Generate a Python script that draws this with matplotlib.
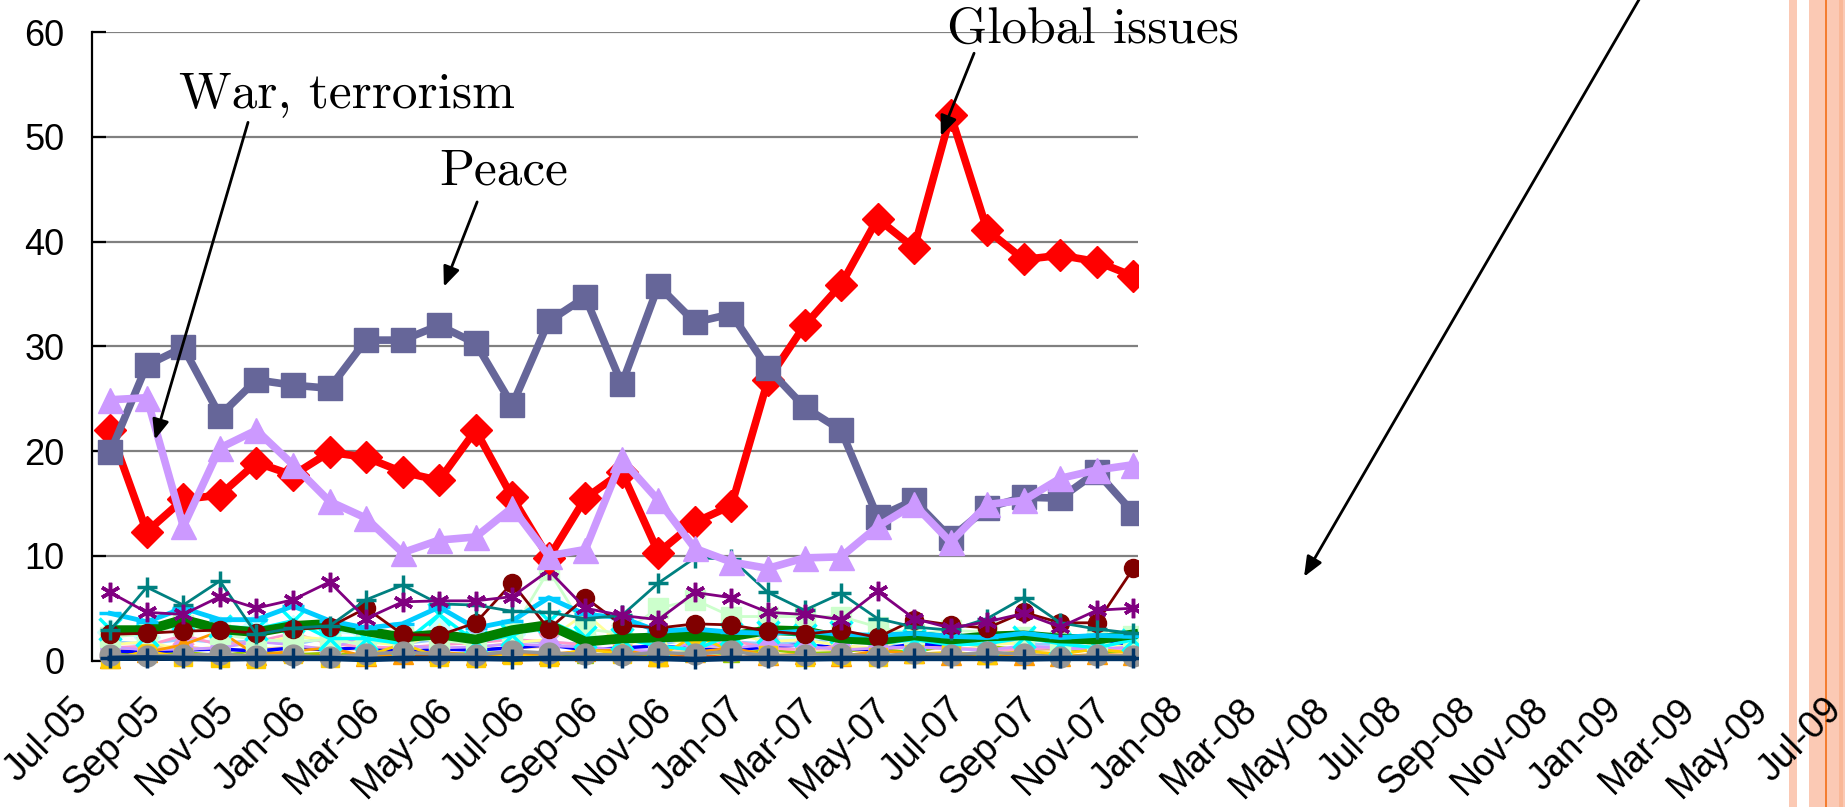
import matplotlib
matplotlib.use("Agg")
import matplotlib.pyplot as plt
from matplotlib.patches import Rectangle
from matplotlib.transforms import Bbox, TransformedBbox, ScaledTranslation

# ---------------- data ----------------
months = ["Jul-05", "Aug-05", "Sep-05", "Oct-05", "Nov-05", "Dec-05", "Jan-06", "Feb-06",
          "Mar-06", "Apr-06", "May-06", "Jun-06", "Jul-06", "Aug-06", "Sep-06", "Oct-06",
          "Nov-06", "Dec-06", "Jan-07", "Feb-07", "Mar-07", "Apr-07", "May-07", "Jun-07",
          "Jul-07", "Aug-07", "Sep-07", "Oct-07", "Nov-07"]

tick_labels = ["Jul-05", "Sep-05", "Nov-05", "Jan-06", "Mar-06", "May-06", "Jul-06", "Sep-06",
               "Nov-06", "Jan-07", "Mar-07", "May-07", "Jul-07", "Sep-07", "Nov-07", "Jan-08",
               "Mar-08", "May-08", "Jul-08", "Sep-08", "Nov-08", "Jan-09", "Mar-09", "May-09",
               "Jul-09"]
y_ticks = [0, 10, 20, 30, 40, 50, 60]

peace = [19.9, 28.2, 29.9, 23.4, 26.8, 26.3, 26.0, 30.6, 30.6, 32.0, 30.3, 24.4, 32.4, 34.7, 26.4,
         35.8, 32.3, 33.1, 27.9, 24.2, 22.0, 13.7, 15.3, 11.7, 14.6, 15.6, 15.5, 18.0, 14.1]
global_issues = [22.0, 12.3, 15.4, 15.8, 18.9, 17.7, 19.9, 19.4, 18.0, 17.2, 22.0, 15.6, 9.8, 15.5,
                 18.0, 10.3, 13.2, 14.8, 26.8, 32.0, 35.9, 42.2, 39.4, 52.1, 41.1, 38.3, 38.7, 38.1, 36.7]
war_terrorism = [24.9, 25.1, 12.8, 20.3, 22.0, 18.7, 15.2, 13.6, 10.3, 11.5, 11.8, 14.6, 10.0, 10.6,
                 19.2, 15.3, 10.7, 9.4, 8.8, 9.8, 9.9, 12.8, 14.9, 11.3, 14.9, 15.3, 17.4, 18.2, 18.7]

purple_s = [6.5, 4.6, 4.4, 6.1, 5.0, 5.8, 7.5, 4.0, 5.6, 5.7, 5.7, 6.1, 8.6, 5.0, 4.3, 3.9, 6.5, 6.0,
            4.6, 4.4, 3.9, 6.6, 4.0, 3.1, 3.7, 4.5, 3.2, 4.8, 5.0]
teal_s = [2.9, 7.0, 5.3, 7.6, 2.5, 3.1, 3.3, 5.8, 7.2, 5.4, 5.3, 4.7, 4.6, 4.0, 4.3, 7.4, 9.8, 9.7,
          6.5, 4.8, 6.4, 4.0, 3.2, 2.9, 4.0, 6.0, 3.6, 3.0, 2.6]
darkred_s = [2.5, 2.6, 2.8, 2.9, 2.6, 3.0, 3.2, 5.0, 2.5, 2.4, 3.6, 7.4, 3.0, 6.0, 3.4, 3.1, 3.5, 3.4,
             2.8, 2.5, 2.9, 2.2, 3.9, 3.4, 3.1, 4.6, 3.6, 3.6, 8.8]
sky_s = [4.5, 3.7, 5.0, 3.9, 3.9, 5.2, 3.8, 3.1, 3.5, 5.1, 3.1, 3.8, 6.0, 4.4, 4.1, 2.8, 3.0, 2.7,
         2.6, 2.8, 2.5, 2.4, 2.6, 2.3, 2.2, 2.6, 2.2, 2.4, 2.3]
green_s = [2.9, 2.9, 3.9, 3.0, 2.7, 3.3, 3.5, 2.8, 2.2, 2.5, 2.0, 2.9, 3.4, 1.8, 2.1, 2.2, 2.3, 2.3,
           2.9, 2.8, 2.1, 1.9, 2.4, 2.0, 2.3, 2.4, 2.1, 2.0, 2.5]
cyan_s = [3.0, 2.4, 4.0, 3.3, 3.0, 3.8, 2.1, 2.1, 1.6, 4.4, 1.8, 2.4, 3.8, 2.2, 2.1, 1.4, 1.0, 2.5,
          2.7, 2.4, 2.7, 1.6, 2.0, 1.5, 1.6, 2.2, 1.6, 1.2, 2.0]
lightgreen_s = [2.2, 2.6, 3.4, 2.5, 2.0, 1.8, 2.0, 1.5, 2.2, 1.9, 1.6, 2.8, 8.6, 3.0, 2.6, 5.0, 5.8,
                4.2, 4.2, 4.2, 4.2, 3.2, 2.5, 2.9, 2.7, 2.2, 1.9, 2.0, 2.3]
yellow_s = [1.5, 1.8, 1.0, 1.3, 1.6, 2.3, 2.0, 1.8, 1.4, 2.6, 1.2, 1.7, 2.0, 4.5, 1.5, 2.2, 1.4, 2.6,
            1.8, 2.0, 1.4, 1.2, 2.3, 1.6, 1.5, 1.7, 2.6, 1.7, 1.2]
pink_s = [1.2, 1.4, 2.4, 1.5, 1.8, 2.6, 1.6, 1.3, 1.2, 1.5, 1.7, 2.0, 1.8, 1.5, 2.5, 1.3, 1.1, 1.9,
          1.2, 1.0, 1.4, 1.1, 1.3, 1.2, 1.0, 1.1, 1.2, 1.0, 1.1]
lavcircle_s = [1.3, 1.0, 1.1, 1.2, 1.8, 1.5, 1.0, 2.5, 1.4, 1.2, 1.3, 1.6, 1.4, 1.3, 1.0, 0.9, 1.7,
               1.2, 1.5, 1.4, 1.0, 1.2, 1.3, 1.1, 1.0, 1.4, 1.2, 1.1, 1.3]
orange_s = [0.2, 0.8, 1.5, 2.8, 0.5, 0.9, 1.2, 0.4, 0.6, 0.8, 0.5, 0.7, 0.6, 0.9, 1.0, 0.4, 0.8, 1.2,
            0.5, 0.6, 0.4, 0.9, 0.7, 0.5, 0.6, 0.5, 0.4, 0.6, 0.5]
gold_s = [0.1, 0.9, 0.3, 0.2, 0.1, 0.6, 0.2, 0.4, 1.6, 0.3, 0.2, 0.5, 0.3, 1.1, 0.6, 0.3, 2.4, 0.9,
          0.5, 0.3, 0.4, 0.3, 0.6, 0.8, 0.5, 0.9, 0.6, 1.1, 0.7]
grey_s = [0.5, 0.4, 0.5, 0.6, 0.4, 0.5, 0.3, 0.6, 0.8, 0.6, 0.5, 0.9, 0.7, 0.6, 0.5, 0.8, 0.6, 0.9,
          0.4, 0.5, 0.6, 0.4, 0.7, 0.5, 0.8, 0.6, 0.3, 0.5, 0.4]
navy_s = [0.2, 0.25, 0.2, 0.15, 0.2, 0.2, 0.2, 0.1, 0.2, 0.2, 0.2, 0.15, 0.2, 0.2, 0.2, 0.2, 0.1, 0.2,
          0.2, 0.15, 0.2, 0.2, 0.2, 0.2, 0.2, 0.15, 0.2, 0.2, 0.2]
blue_s = [0.9, 0.8, 1.0, 1.1, 0.9, 1.2, 1.0, 1.3, 0.8, 1.1, 1.0, 1.2, 1.5, 1.0, 1.2, 1.4, 1.1, 1.0,
          1.3, 1.5, 1.2, 1.0, 1.6, 1.4, 2.4, 2.5, 2.0, 2.3, 1.2]
yg_s = [0.7, 0.6, 0.8, 0.5, 0.9, 0.6, 0.7, 0.5, 0.8, 0.6, 0.7, 0.8, 0.6, 0.5, 0.7, 0.6, 0.8, 0.6,
        1.0, 0.7, 0.8, 1.2, 0.7, 1.6, 1.4, 1.0, 1.2, 0.8, 0.9]
lightblue_s = [1.8, 1.6, 2.0, 1.7, 1.9, 1.5, 2.2, 1.8, 1.6, 2.0, 2.3, 1.9, 1.7, 1.6, 2.7, 1.5, 2.1,
               1.8, 1.6, 1.7, 2.1, 1.5, 1.4, 1.3, 1.9, 1.6, 1.5, 1.8, 1.6]
lightcyan_s = [2.7, 2.2, 3.8, 3.0, 3.4, 3.1, 2.8, 2.5, 2.6, 2.9, 2.4, 2.5, 3.0, 2.2, 2.1, 2.6, 2.3,
               2.7, 2.0, 2.2, 2.4, 1.8, 1.9, 2.1, 1.7, 2.0, 1.9, 1.8, 1.6]
orangered_s = [0.4, 0.5, 0.3, 0.6, 0.4, 0.5, 0.7, 0.3, 0.4, 0.6, 0.5, 0.4, 0.3, 0.5, 0.6, 0.4, 0.5,
               0.3, 0.4, 0.5, 0.6, 0.4, 0.5, 0.3, 0.4, 0.5, 0.4, 0.3, 0.4]
peach_s = [1.0, 1.2, 1.4, 0.9, 1.1, 1.3, 1.2, 1.0, 0.9, 1.1, 1.0, 1.2, 1.3, 1.4, 3.0, 1.1, 1.0, 1.2,
           0.9, 1.1, 1.0, 0.8, 1.0, 1.2, 1.1, 0.9, 1.0, 1.1, 0.9]

# ---------------- figure / layout ----------------
W, H, DPI = 1845, 807, 100
fig = plt.figure(figsize=(W / DPI, H / DPI), dpi=DPI)
fig.patch.set_facecolor("white")

# decorative stripes at right edge (slide decoration)
for x0, x1, c in [(1789, 1797, "#FBC9B4"), (1809, 1845, "#FBC9B4"),
                  (1839, 1843, "#F9B898"), (1824.5, 1826.5, "#F47D30")]:
    fig.patches.append(Rectangle((x0 / W, 0), (x1 - x0) / W, 1, transform=fig.transFigure,
                                 facecolor=c, edgecolor="none", zorder=-5))

ax_left, ax_bottom, ax_top = 92, 660.5, 32.3
month_px = 36.54
n_axis_months = 48
ax = fig.add_axes([ax_left / W, (H - ax_bottom) / H,
                   n_axis_months * month_px / W, (ax_bottom - ax_top) / H])
ax.patch.set_visible(False)
ax.set_xlim(0, n_axis_months)
ax.set_ylim(0, 60)

x = [i + 0.5 for i in range(len(months))]
x_clip = len(months) - 0.37
clipbox = TransformedBbox(Bbox([[-1, -10], [x_clip, 80]]), ax.transData)

# gridlines and bottom axis line (plot area is cut at the right)
ax.hlines(y_ticks[1:], 0, x_clip, colors="#808080", lw=1.6, zorder=0.5)
ax.hlines(0, 0, x_clip, colors="black", lw=1.6, zorder=0.6)

asterisk = (6, 2, 0)
minor = [
    (peach_s, "#FFCC99", "o", 1.8, 11),
    (orangered_s, "#FF6600", "None", 2, 0),
    (lightcyan_s, "#CCFFFF", "D", 2, 13),
    (lightblue_s, "#99CCFF", "x", 2, 13),
    (yg_s, "#99CC00", "^", 1.8, 12),
    (blue_s, "#0000FF", "None", 2.5, 0),
    (pink_s, "#FF99CC", "x", 2, 14),
    (yellow_s, "#FFFF99", "^", 2, 15),
    (lavcircle_s, "#CC99FF", "o", 2, 14),
    (orange_s, "#FF9900", "^", 2, 14),
    (gold_s, "#FFCC00", "s", 2, 13),
    (lightgreen_s, "#CCFFCC", "s", 2, 14),
    (cyan_s, "#00FFFF", "x", 2.5, 16),
    (green_s, "#008000", "None", 7, 0),
    (sky_s, "#00CCFF", "_", 3.5, 16),
    (darkred_s, "#800000", "o", 2, 13),
    (teal_s, "#008080", "+", 2, 15),
    (purple_s, "#800080", asterisk, 2, 14),
    (grey_s, "#969696", "o", 2.5, 15),
    (navy_s, "#003366", "+", 4, 15),
]
for vals, col, mk, lw, ms in minor:
    thin = mk in ("x", "+", "_") or isinstance(mk, tuple)
    ln, = ax.plot(x, vals, color=col, marker=mk, lw=lw, ms=ms, mew=2.5 if thin else 1, zorder=2)
    ln.set_clip_box(clipbox)

main = [
    (global_issues, "#FF0000", "D", 5.5, 16),
    (peace, "#666699", "s", 5.5, 17),
    (war_terrorism, "#CC99FF", "^", 5.5, 18),
]
for vals, col, mk, lw, ms in main:
    ln, = ax.plot(x, vals, color=col, marker=mk, lw=lw, ms=ms, mec=col, zorder=3)
    ln.set_clip_box(clipbox)

# ---------------- axes styling ----------------
for s in ["top", "right", "bottom"]:
    ax.spines[s].set_visible(False)
ax.spines["left"].set_linewidth(1.6)
ax.spines["left"].set_color("black")

ax.set_yticks(y_ticks)
ax.set_yticklabels([str(v) for v in y_ticks], fontsize=26, fontfamily="Liberation Sans")
ax.tick_params(axis="y", direction="in", length=10, width=1.6, pad=20)

ax.set_xticks(range(0, n_axis_months + 1, 2))
ax.set_xticklabels(tick_labels, rotation=45, ha="right", va="center",
                   rotation_mode="anchor", fontsize=27, fontfamily="Liberation Sans")
ax.tick_params(axis="x", length=0, pad=31)
offset = ScaledTranslation(-10 / DPI, 0, fig.dpi_scale_trans)
for lab in ax.get_xticklabels():
    lab.set_transform(lab.get_transform() + offset)

# ---------------- annotations ----------------
serif = dict(fontfamily="cmr10", fontsize=37, color="black")
arrow = dict(arrowstyle="-|>,head_length=0.6,head_width=0.25", lw=2, color="black",
             mutation_scale=20, shrinkA=0, shrinkB=0)

ax.text(2.38, 52.9, "War, terrorism", ha="left", va="baseline", **serif)
ax.text(9.5, 45.5, "Peace", ha="left", va="baseline", **serif)
ax.text(23.4, 59.0, "Global issues", ha="left", va="baseline", **serif)

ax.annotate("", xy=(1.72, 21.1), xytext=(4.27, 51.4), arrowprops=arrow, annotation_clip=False)
ax.annotate("", xy=(9.63, 35.7), xytext=(10.54, 43.8), arrowprops=arrow, annotation_clip=False)
ax.annotate("", xy=(23.23, 50.1), xytext=(24.14, 58.0), arrowprops=arrow, annotation_clip=False)
ax.annotate("", xy=(33.17, 8.0), xytext=(42.4, 63.5), arrowprops=arrow, annotation_clip=False)

fig.savefig("out.png", dpi=DPI)
